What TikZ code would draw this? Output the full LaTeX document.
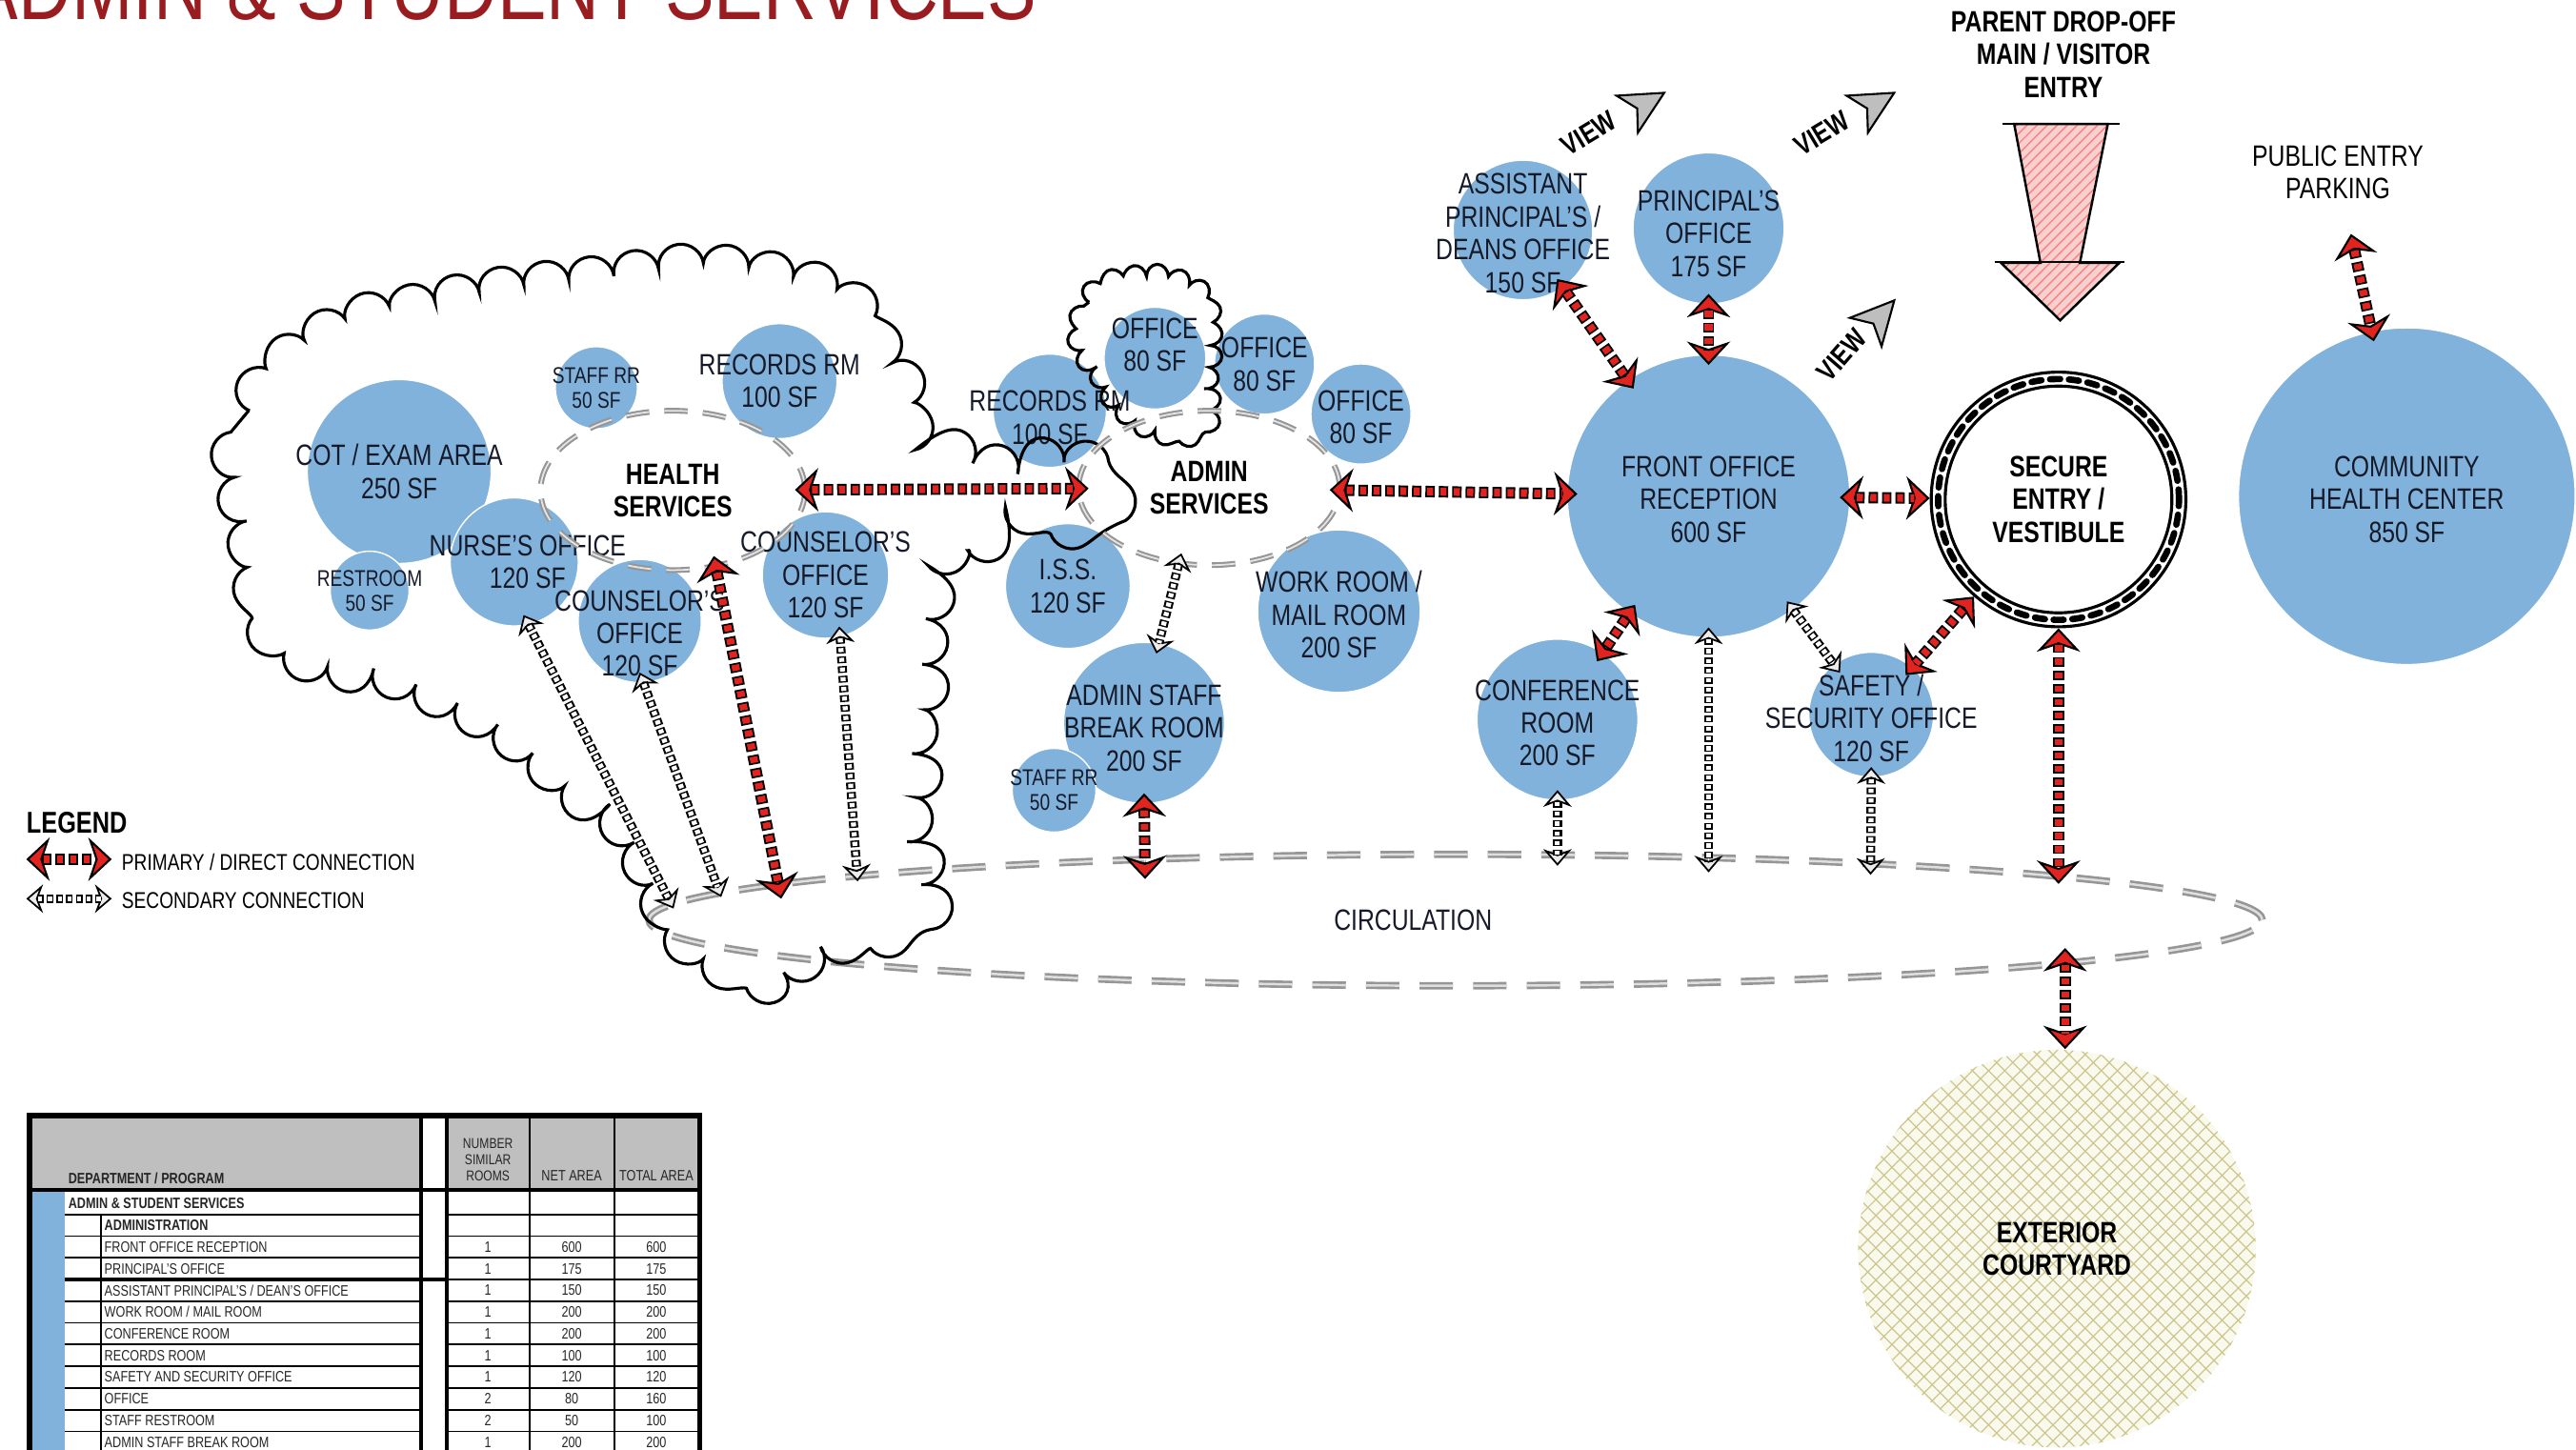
\documentclass[tikz,border=0pt]{standalone}
\usepackage{fontspec}
\setmainfont{Liberation Sans}[FakeStretch=0.8]
\usetikzlibrary{arrows.meta,shapes.geometric,decorations.pathmorphing,patterns,patterns.meta}

\definecolor{roomblue}{RGB}{128,178,219}
\definecolor{labeltext}{RGB}{22,26,40}
\definecolor{arrowred}{RGB}{226,36,32}
\definecolor{titlered}{RGB}{152,28,32}
\definecolor{hdrgray}{RGB}{191,191,191}
\definecolor{courtfill}{RGB}{250,249,237}
\definecolor{courtline}{RGB}{204,198,140}
\definecolor{entrypink}{RGB}{247,208,208}
\definecolor{viewgray}{RGB}{190,190,190}
\definecolor{dashgray}{RGB}{150,150,150}

\newcommand{\dpx}{0.017245cm}

\tikzset{
  prihead/.tip={Stealth[length=7pt,width=13pt,inset=2.2pt,fill=arrowred,color=black,line width=0.6pt]},
  sechead/.tip={Stealth[length=5pt,width=8.5pt,inset=1.6pt,fill=gray!15,color=black,line width=0.5pt]},
  primary/.style={draw=white, line width=0.2pt, arrows={prihead-prihead},
    postaction={draw=black, arrows=-, line width=3.4pt, dash pattern=on 2.8pt off 1.2pt, shorten <=4.6pt, shorten >=4.6pt},
    postaction={draw=arrowred, arrows=-, line width=2.3pt, dash pattern=on 1.8pt off 2.2pt, dash phase=3.5pt, shorten <=4.6pt, shorten >=4.6pt}},
  secondary/.style={draw=white, line width=0.2pt, arrows={sechead-sechead},
    postaction={draw=black, arrows=-, line width=2.7pt, dash pattern=on 2pt off 0.9pt, shorten <=3.2pt, shorten >=3.2pt},
    postaction={draw=white, arrows=-, line width=1.5pt, dash pattern=on 1.2pt off 1.7pt, dash phase=2.5pt, shorten <=3.2pt, shorten >=3.2pt}}
}

\begin{document}
\begin{tikzpicture}[x=0.017245cm, y=-0.017245cm,
  room/.style={circle, fill=roomblue, draw=white, line width=0.4pt, inner sep=0pt, outer sep=-3pt},
  rad/.style={minimum size=2*#1*\dpx},
  lbl/.style={align=center, text=labeltext, font=\fontsize{8.8}{9.8}\selectfont},
  lblsm/.style={align=center, text=labeltext, font=\fontsize{6.8}{7.4}\selectfont},
  bold/.style={align=center, text=black, font=\bfseries\fontsize{8.8}{9.8}\selectfont},
  svc/.style={ellipse, draw=dashgray, line width=0.6pt, double=gray!20, double distance=0.5pt, dash pattern=on 7pt off 4.5pt, inner sep=0pt, outer sep=-3pt, bold},
  cloudline/.style={draw=black, line width=0.9pt, decorate, decoration={bumps, segment length=27pt, amplitude=6.5pt}},
  cloudsm/.style={draw=black, line width=0.9pt, decorate, decoration={bumps, segment length=13pt, amplitude=3.8pt}},
  tbl/.style={inner sep=0.6pt, text=black!85, font=\fontsize{4.5}{5}\selectfont},
  viewhead/.style={fill=viewgray, draw=black, line width=0.6pt}]

\useasboundingbox (0,0) rectangle (1568,882);

\node[anchor=base west, inner sep=0pt, text=titlered, font=\fontsize{27.5}{30}\selectfont] (title) at (-19,12) {ADMIN \& STUDENT SERVICES};

\node[ellipse, draw=dashgray, line width=0.75pt, double=gray!25, double distance=0.7pt, dash pattern=on 10pt off 6pt, minimum width=982*\dpx, minimum height=80*\dpx, label={[lbl, xshift=-12.7pt]center:CIRCULATION}] (circ) at (886,560) {};
\coordinate (c-nurse) at (410,553);
\coordinate (c-counb) at (439,546);
\coordinate (c-hs) at (475.5,547);
\coordinate (c-couna) at (522,536.5);
\coordinate (c-bk) at (697,535);
\coordinate (c-conf) at (948,527);
\coordinate (c-fo) at (1040,531);
\coordinate (c-saf) at (1138.6,532.5);
\coordinate (c-sec) at (1253,538);
\coordinate (c-court) at (1257,577);

\node[room, rad=56, label={[lbl]center:COT / EXAM AREA\\250 SF}] (cot) at (243,287) {};
\node[room, rad=24, label={[lblsm]center:RESTROOM\\50 SF}] (rest) at (225,359.5) {};
\node[room, rad=39, label={[lbl, xshift=4pt]center:NURSE'S OFFICE\\120 SF}] (nurse) at (313,342) {};
\node[room, rad=25, label={[lblsm]center:STAFF RR\\50 SF}] (hrr) at (363,236) {};
\node[room, rad=35, label={[lbl]center:RECORDS RM\\100 SF}] (hrec) at (474.5,232) {};
\node[room, rad=38.5, label={[lbl]center:COUNSELOR'S\\OFFICE\\120 SF}] (couna) at (502.5,350) {};
\node[room, rad=37.5, label={[lbl, yshift=-3.7pt]center:COUNSELOR'S\\OFFICE\\120 SF}] (counb) at (389.4,378) {};

\node[room, rad=31, label={[lbl, yshift=4pt]center:OFFICE\\80 SF}] (off1) at (703,218) {};
\node[room, rad=34.5, label={[lbl, yshift=-2pt]center:RECORDS RM\\100 SF}] (arec) at (639,250) {};
\node[room, rad=30.5, label={[lbl]center:OFFICE\\80 SF}] (off2) at (769.7,221.6) {};
\node[room, rad=30.5, label={[lbl, yshift=-1pt]center:OFFICE\\80 SF}] (off3) at (828.4,252) {};
\node[room, rad=38, label={[lbl]center:I.S.S.\\120 SF}] (iss) at (650,356.7) {};
\node[room, rad=49.5, label={[lbl, yshift=-1pt]center:WORK ROOM /\\MAIL ROOM\\200 SF}] (work) at (815,372) {};
\node[room, rad=49, label={[lbl, yshift=-1.5pt]center:ADMIN STAFF\\BREAK ROOM\\200 SF}] (bk) at (696.4,440) {};
\node[room, rad=25.5, label={[lblsm]center:STAFF RR\\50 SF}] (arr) at (641.6,481) {};

\node[room, rad=86, label={[lbl, yshift=-1pt]center:FRONT OFFICE\\RECEPTION\\600 SF}] (fo) at (1040,302) {};
\node[room, rad=42.5, label={[lbl, yshift=-1pt]center:ASSISTANT\\PRINCIPAL'S /\\DEANS OFFICE\\150 SF}] (ap) at (927,140) {};
\node[room, rad=46, label={[lbl, yshift=-1.5pt]center:PRINCIPAL'S\\OFFICE\\175 SF}] (pr) at (1040,139) {};
\node[room, rad=49, label={[lbl, yshift=-1pt]center:CONFERENCE\\ROOM\\200 SF}] (conf) at (948,438) {};
\node[room, rad=38, label={[lbl, yshift=-1pt]center:SAFETY /\\SECURITY OFFICE\\120 SF}] (saf) at (1139,435) {};
\node[room, rad=102.5, label={[lbl, yshift=-1pt]center:COMMUNITY\\HEALTH CENTER\\850 SF}] (chc) at (1465,302) {};

\draw[cloudline] plot[smooth cycle, tension=0.6] coordinates {(143,285) (152,250) (166,226) (205,199) (248,187) (305,176) (364,169) (423,162) (480,169) (515,183) (534,207) (549,233) (558,259) (595,280) (619,278) (640,283) (658,283) (670,292) (674,305) (669,315) (653,318) (630,314) (609,324) (590,326) (574,345) (565,383) (565,406) (559,435) (563,454) (556,489) (562,503) (562,522) (565,543) (551,562) (522,571) (500,576) (492,589) (464,596) (437,585) (412,567) (404,549) (380,505) (355,485) (316,452) (287,434) (244,414) (204,406) (174,394) (158,365) (151,325)};
\draw[cloudsm] plot[smooth cycle, tension=0.6] coordinates {(658,201) (663,184) (674,174) (688,170) (704,169) (719,173) (730,180) (735,192) (736,214) (734,232) (735,252) (722,264) (708,262) (696,257) (682,246) (671,229) (661,215)};

\node[svc, minimum width=161*\dpx, minimum height=97*\dpx] (hs) at (409.5,298.5) {HEALTH\\SERVICES};
\node[svc, minimum width=159*\dpx, minimum height=94*\dpx] (as) at (736,297) {ADMIN\\SERVICES};

\node[circle, draw=black, line width=0.9pt, rad=77.5, inner sep=0pt, bold] (sec) at (1253,304) {SECURE\\ENTRY /\\VESTIBULE};
\draw[line width=0.9pt] (sec.center) circle[radius=69*\dpx];
\draw[line width=1.9pt, line cap=round, dash pattern=on 3pt off 2.6pt] (sec.center) circle[radius=73.3*\dpx];

\node[circle, rad=121, inner sep=0pt, fill=courtfill,
  postaction={pattern={Lines[angle=45,distance=3.4pt,line width=0.35pt]}, pattern color=courtline},
  postaction={pattern={Lines[angle=-45,distance=3.4pt,line width=0.35pt]}, pattern color=courtline}, bold] (court) at (1252,760) {EXTERIOR\\COURTYARD};

\node[lbl, text=black, outer sep=7pt] (park) at (1423,105) {PUBLIC ENTRY\\PARKING};
\node[bold] (entry) at (1256,33) {PARENT DROP-OFF\\MAIN / VISITOR\\ENTRY};
\draw[line width=0.7pt, preaction={fill=entrypink}, preaction={pattern=north east lines, pattern color=red!50}] (1226,75.5) -- (1283,75.5) -- (1266,160) -- (1290,160) -- (1254,195) -- (1218,160) -- (1242,160) -- cycle;
\draw[line width=0.7pt] (1219,75.5) -- (1290,75.5) (1214,159.5) -- (1293,159.5);

\node[rotate=31, font=\bfseries\fontsize{8.5}{9}\selectfont] (v1) at (967,81) {VIEW};
\node[rotate=31, font=\bfseries\fontsize{8.5}{9}\selectfont] (v2) at (1109,81) {VIEW};
\node[rotate=49, font=\bfseries\fontsize{8.5}{9}\selectfont] (v3) at (1121,216) {VIEW};
\filldraw[viewhead, shift={(1000,64)}, rotate=30] (15,0) -- (-11,-13) -- (-4,0) -- (-11,13) -- cycle;
\filldraw[viewhead, shift={(1140,64)}, rotate=30] (15,0) -- (-11,-13) -- (-4,0) -- (-11,13) -- cycle;
\filldraw[viewhead, shift={(1143,194)}, rotate=48] (15,0) -- (-11,-13) -- (-4,0) -- (-11,13) -- cycle;

\draw[primary] (hs) -- (as);
\draw[primary] (as) -- (fo);
\draw[primary] (fo) -- (sec);
\draw[primary] (fo) -- (ap);
\draw[primary] (pr) -- (fo);
\draw[primary] (fo) -- (conf);
\draw[primary] (sec) -- (saf);
\draw[primary] (sec.south) -- (c-sec);
\draw[primary] (c-court) -- (c-court |- court.north);
\draw[primary] (park) -- (chc);
\draw[primary] (bk.south) -- (c-bk);
\draw[primary] (hs.-58) -- (c-hs);
\draw[secondary] (nurse.-80) -- (c-nurse);
\draw[secondary] (counb.south) -- (c-counb);
\draw[secondary] (couna.-75) -- (c-couna);
\draw[secondary] (as.-113) -- (bk.80);
\draw[secondary] (fo.south) -- (c-fo);
\draw[secondary] (fo) -- (saf);
\draw[secondary] (conf.south) -- (c-conf);
\draw[secondary] (saf.south) -- (c-saf);

\node[anchor=west, font=\bfseries\fontsize{9}{10}\selectfont] (leg) at (9,501) {LEGEND};
\coordinate (lg-pa) at (16,523);
\coordinate (lg-pb) at (68,523);
\coordinate (lg-sa) at (16,547);
\coordinate (lg-sb) at (68,547);
\draw[primary] (lg-pa) -- (lg-pb);
\draw[secondary] (lg-sa) -- (lg-sb);
\node[anchor=west, font=\fontsize{6.8}{7.5}\selectfont] (leg-p) at (67,524.5) {PRIMARY / DIRECT CONNECTION};
\node[anchor=west, font=\fontsize{6.8}{7.5}\selectfont] (leg-s) at (67,548) {SECONDARY CONNECTION};

\fill[hdrgray] (19,680) rectangle (256.5,724);
\fill[hdrgray] (272,680) rectangle (425,724);
\fill[roomblue] (19.5,725) rectangle (39.3,890);
\foreach \k in {1,...,11}{
\draw[line width=0.5pt] (39.3,726+13.2*\k) -- (256.5,726+13.2*\k) (272,726+13.2*\k) -- (425,726+13.2*\k);
}
\draw[line width=1pt] (39.3,778.8) -- (272,778.8);
\draw[line width=0.5pt] (61.3,739.2) -- (61.3,890);
\draw[line width=1.2pt] (256.5,680) -- (256.5,890) (272,680) -- (272,890);
\draw[line width=0.7pt] (322.5,680) -- (322.5,890) (374,680) -- (374,890);
\draw[line width=1.1pt] (19,724.5) -- (425,724.5);
\draw[line width=1.5pt] (18,679) rectangle (426,895);
\node[tbl, anchor=west, font=\bfseries\fontsize{4.5}{5}\selectfont] (th-dept) at (40,717.5) {DEPARTMENT / PROGRAM};
\node[tbl, align=center, font=\fontsize{4.3}{4.75}\selectfont] (th-nsr) at (297,706) {NUMBER\\SIMILAR\\ROOMS};
\node[tbl] (th-net) at (348,715.5) {NET AREA};
\node[tbl] (th-tot) at (399.5,715.5) {TOTAL AREA};
\node[tbl, anchor=west, font=\bfseries\fontsize{4.5}{5}\selectfont] (row0) at (40,732.6) {ADMIN \& STUDENT SERVICES};
\node[tbl, anchor=west, font=\bfseries\fontsize{4.5}{5}\selectfont] (row1) at (62,745.8) {ADMINISTRATION};
\foreach \n/\c/\a/\t [count=\i from 2] in {FRONT OFFICE RECEPTION/1/600/600, PRINCIPAL'S OFFICE/1/175/175, {ASSISTANT PRINCIPAL'S / DEAN'S OFFICE}/1/150/150, {WORK ROOM / MAIL ROOM}/1/200/200, CONFERENCE ROOM/1/200/200, RECORDS ROOM/1/100/100, SAFETY AND SECURITY OFFICE/1/120/120, OFFICE/2/80/160, STAFF RESTROOM/2/50/100, ADMIN STAFF BREAK ROOM/1/200/200}{
\node[tbl, anchor=west] (row\i) at (62,732.6+13.2*\i) {\n};
\node[tbl] (nsr\i) at (297,732.6+13.2*\i) {\c};
\node[tbl] (net\i) at (348,732.6+13.2*\i) {\a};
\node[tbl] (tot\i) at (399.5,732.6+13.2*\i) {\t};
}
\end{tikzpicture}
\end{document}
